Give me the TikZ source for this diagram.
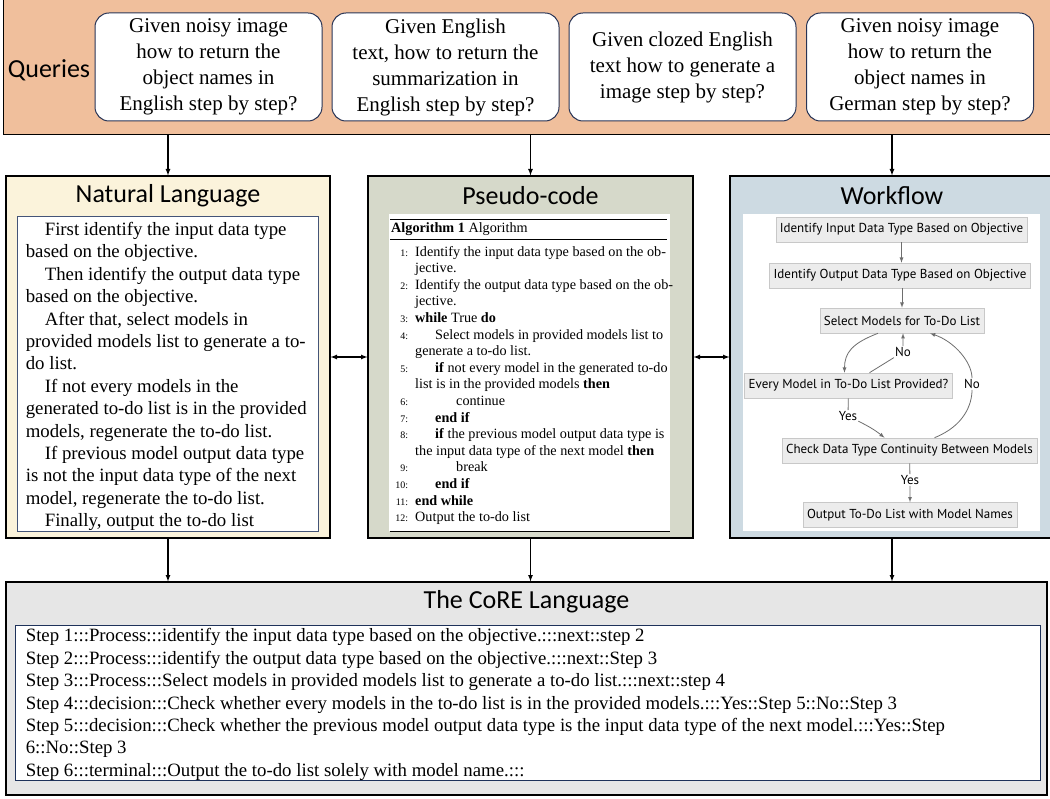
\documentclass[tikz,border=0pt]{standalone}
\usepackage{fontspec}
\setmainfont{Liberation Serif}
\newfontfamily\calibri{Carlito}
\newfontfamily\mermaid{PT Sans}

\definecolor{qorange}{RGB}{240,191,156}
\definecolor{qnavy}{RGB}{40,52,85}
\definecolor{nlcream}{RGB}{251,243,219}
\definecolor{nlslate}{RGB}{68,84,120}
\definecolor{pcsage}{RGB}{214,217,202}
\definecolor{wfblue}{RGB}{205,218,226}
\definecolor{coregray}{RGB}{230,230,230}
\definecolor{corenavy}{RGB}{30,50,90}
\definecolor{mmfill}{RGB}{236,236,236}
\definecolor{mmline}{RGB}{200,200,200}
\definecolor{mmedge}{RGB}{110,110,110}

\newcommand\nlindent{\hspace*{19pt}}
\newcommand\algln[1]{\makebox[15pt][r]{\fontsize{10}{10}\selectfont #1:}\hspace*{7pt}}
\newcommand\algcont{\hspace*{22pt}}

\begin{document}
\begin{tikzpicture}[x=1pt,y=-1pt,
    box/.style={draw,inner sep=0pt},
    panel/.style={box,line width=1.2pt,minimum width=324pt,minimum height=362pt},
    title/.style={font=\calibri\fontsize{26}{26}\selectfont},
    query/.style={draw=qnavy,line width=1pt,fill=white,rounded corners=14pt,minimum width=227pt,minimum height=108pt,align=center,font=\fontsize{21}{26}\selectfont},
    link/.style={line width=1.2pt,-latex},
    body/.style={align=left,inner sep=0pt,font=\fontsize{18.8}{22.4}\selectfont},
    wfnode/.style={draw=mmline,fill=mmfill,line width=0.6pt,minimum height=25pt,inner xsep=4pt,font=\mermaid\fontsize{13}{13}\selectfont},
    wflabel/.style={fill=white,inner sep=1pt,font=\mermaid\fontsize{13}{13}\selectfont},
    flow/.style={draw=mmedge,line width=0.8pt,-latex}]
  \useasboundingbox (0,0) rectangle (1050,799);
  \fill[white] (0,0) rectangle (1050,799);

  % queries band
  \node[box,line width=1.2pt,fill=qorange,minimum width=1055pt,minimum height=140pt,anchor=south west] (qband) at (3,135) {};
  \node[font=\calibri\fontsize{26}{26}\selectfont] (qlabel) at (49,70) {Queries};
  \node[query] (q1) at (208.5,67) {Given noisy image\\how to return the\\object names in\\English step by step?};
  \node[query] (q2) at (445.5,67) {Given English\\text, how to return the\\summarization in\\English step by step?};
  \node[query] (q3) at (682.5,67) {Given clozed English\\text how to generate a\\image step by step?};
  \node[query] (q4) at (920,67) {Given noisy image\\how to return the\\object names in\\German step by step?};

  % the three panels
  \node[panel,fill=nlcream] (nlpanel) at (168,357) {};
  \node[panel,fill=pcsage,minimum width=325pt] (pcpanel) at (530.5,357) {};
  \node[panel,fill=wfblue] (wfpanel) at (892,357) {};
  \node[title] (nltitle) at ([yshift=-20pt]nlpanel.north) {Natural Language};
  \node[title] (pctitle) at ([yshift=-20pt]pcpanel.north) {Pseudo-code};
  \node[title] (wftitle) at ([yshift=-20pt]wfpanel.north) {Workflow};

  % natural language
  \node[box,draw=nlslate,line width=0.8pt,fill=white,minimum width=301pt,minimum height=315pt] (nlbox) at (167.5,373.5) {};
  \node[body,anchor=west] (nltext) at ([xshift=9pt,yshift=-3pt]nlbox.west) {%
    \nlindent First identify the input data type\\
    based on the objective.\\
    \nlindent Then identify the output data type\\
    based on the objective.\\
    \nlindent After that, select models in\\
    provided models list to generate a to-\\
    do list.\\
    \nlindent If not every models in the\\
    generated to-do list is in the provided\\
    models, regenerate the to-do list.\\
    \nlindent If previous model output data type\\
    is not the input data type of the next\\
    model, regenerate the to-do list.\\
    \nlindent Finally, output the to-do list};

  % pseudo-code
  \node[box,draw=none,fill=white,minimum width=281pt,minimum height=317pt] (pcbox) at (529.5,372.5) {};
  \draw[line width=1pt] (390,220) -- (667,220);
  \draw[line width=0.5pt] (390,239) -- (667,239);
  \draw[line width=0.5pt] (390,531) -- (670,531);
  \node[anchor=west,inner sep=0pt,font=\fontsize{14.2}{16.6}\selectfont] (pccap) at (391,229) {\textbf{Algorithm 1} Algorithm};
  \node[anchor=north west,align=left,inner sep=0pt,font=\fontsize{14.2}{16.6}\selectfont] (pclist) at (393,246) {%
    \algln{1}Identify the input data type based on the ob-\\
    \algcont jective.\\
    \algln{2}Identify the output data type based on the ob-\\
    \algcont jective.\\
    \algln{3}\textbf{while} True \textbf{do}\\
    \algln{4}\hspace*{20pt}Select models in provided models list to\\
    \algcont generate a to-do list.\\
    \algln{5}\hspace*{20pt}\textbf{if} not every model in the generated to-do\\
    \algcont list is in the provided models \textbf{then}\\
    \algln{6}\hspace*{41pt}continue\\
    \algln{7}\hspace*{20pt}\textbf{end if}\\
    \algln{8}\hspace*{20pt}\textbf{if} the previous model output data type is\\
    \algcont the input data type of the next model \textbf{then}\\
    \algln{9}\hspace*{41pt}break\\
    \algln{10}\hspace*{20pt}\textbf{end if}\\
    \algln{11}\textbf{end while}\\
    \algln{12}Output the to-do list};

  % workflow
  \node[box,draw=none,fill=white,minimum width=297pt,minimum height=317pt] (wfbox) at (891.5,372.5) {};
  \node[wfnode] (inType) at (901.5,229.5) {Identify Input Data Type Based on Objective};
  \node[wfnode] (outType) at (900,275.5) {Identify Output Data Type Based on Objective};
  \node[wfnode] (selModels) at (902,320.5) {Select Models for To-Do List};
  \node[wfnode] (allProvided) at (848.5,385.5) {Every Model in To-Do List Provided?};
  \node[wfnode] (checkCont) at (909.5,450.5) {Check Data Type Continuity Between Models};
  \node[wfnode] (outList) at (910,515) {Output To-Do List with Model Names};
  \node[wflabel] (noA) at (903,352) {No};
  \node[wflabel] (noB) at (972,384) {No};
  \node[wflabel] (yesA) at (848,416) {Yes};
  \node[wflabel] (yesB) at (910,480) {Yes};
  \draw[flow] (inType.south) -- (inType.south |- outType.north);
  \draw[flow] (selModels.north |- outType.south) -- (selModels.north);
  \draw[flow] ([xshift=-24pt]selModels.south) .. controls +(-26,10) and +(0,-20) .. ([xshift=-4pt]allProvided.north);
  \draw[flow] ([xshift=21pt]allProvided.north) -- (noA) -- (noA |- selModels.south);
  \draw[flow] (allProvided) -- (yesA) .. controls +(20,10) and +(-10,-8) .. ([xshift=-25pt]checkCont.north);
  \draw[flow] ([xshift=25pt]checkCont.north) .. controls +(30,-12) and +(0,20) .. (noB) .. controls +(0,-22) and +(24,8) .. ([xshift=28pt]selModels.south);
  \draw[flow] (checkCont) -- (yesB) -- (outList);

  % the CoRE language
  \node[box,line width=1.2pt,fill=coregray,minimum width=1041pt,minimum height=213pt] (corepanel) at (526.5,688.5) {};
  \node[title] (coretitle) at ([yshift=-20pt]corepanel.north) {The CoRE Language};
  \node[box,draw=corenavy,line width=0.8pt,fill=white,minimum width=1025pt,minimum height=155pt] (corebox) at (527.5,702.5) {};
  \node[body,anchor=west] (coretext) at ([xshift=11pt,yshift=-2pt]corebox.west) {%
    Step 1:::Process:::identify the input data type based on the objective.:::next::step 2\\
    Step 2:::Process:::identify the output data type based on the objective.:::next::Step 3\\
    Step 3:::Process:::Select models in provided models list to generate a to-do list.:::next::step 4\\
    Step 4:::decision:::Check whether every models in the to-do list is in the provided models.:::Yes::Step 5::No::Step 3\\
    Step 5:::decision:::Check whether the previous model output data type is the input data type of the next model.:::Yes::Step\\
    6::No::Step 3\\
    Step 6:::terminal:::Output the to-do list solely with model name.:::};

  % connectors
  \draw[link] (qband.south -| nlpanel.north) -- (nlpanel.north);
  \draw[link] (qband.south -| pcpanel.north) -- (pcpanel.north);
  \draw[link] (qband.south -| wfpanel.north) -- (wfpanel.north);
  \draw[link,latex-latex] (nlpanel.east) -- (pcpanel.west);
  \draw[link,latex-latex] (pcpanel.east) -- (wfpanel.west);
  \draw[link] (nlpanel.south) -- (nlpanel.south |- corepanel.north);
  \draw[link] (pcpanel.south) -- (pcpanel.south |- corepanel.north);
  \draw[link] (wfpanel.south) -- (wfpanel.south |- corepanel.north);
\end{tikzpicture}
\end{document}
